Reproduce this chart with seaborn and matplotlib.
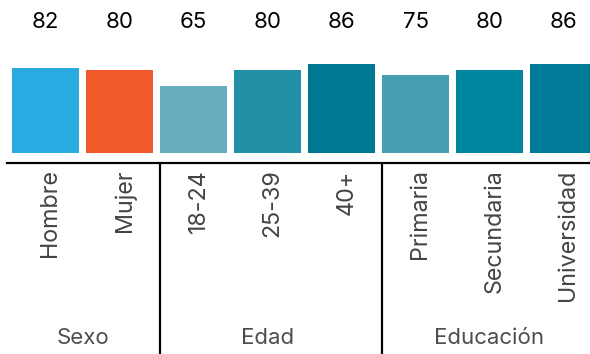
import matplotlib
matplotlib.use("Agg")
import matplotlib.pyplot as plt
import matplotlib.transforms as mtransforms
import seaborn as sns
import pandas as pd

categories = ["Hombre", "Mujer", "18-24", "25-39", "40+", "Primaria", "Secundaria", "Universidad"]
values = [82, 80, 65, 80, 86, 75, 80, 86]
groups = ["Sexo", "Sexo", "Edad", "Edad", "Edad", "Educación", "Educación", "Educación"]
group_names = ["Sexo", "Edad", "Educación"]
colors = ["#29ABE2", "#F15A2B", "#66ADBE", "#2290A6", "#007893", "#479FB4", "#00869E", "#007A96"]

sns.set_theme(style="white")
plt.rcParams["font.family"] = ["Inter", "DejaVu Sans"]

df = pd.DataFrame({"cat": categories, "val": values, "grp": groups})

W, H = 590, 354
fig = plt.figure(figsize=(W / 100, H / 100), dpi=100)
ax = fig.add_axes([0, (H - 153) / H, 1, 153 / H])

sns.barplot(data=df, x="cat", y="val", hue="cat", palette=colors, legend=False,
            width=0.905, saturation=1, linewidth=0, edgecolor="none", ax=ax)

step = 74.0
ax.set_xlim(-45.5 / step, (W - 45.5) / step)
ax.set_ylim(0, 153 / 1.035)
ax.set_xlabel("")
ax.set_ylabel("")
ax.set_yticks([])

for s in ["top", "left", "right"]:
    ax.spines[s].set_visible(False)
ax.spines["bottom"].set_position(("outward", 10 * 72 / 100))
ax.spines["bottom"].set_linewidth(2.2 * 72 / 100)
ax.spines["bottom"].set_color("black")
ax.spines["bottom"].set_bounds(-38.5 / step, (W - 45.5) / step)

ax.tick_params(axis="x", length=0, pad=4.5, labelsize=16.8, labelcolor="#444444")
ax.set_xticks(range(len(categories)))
ax.set_xticklabels(categories, rotation=90)
offset = mtransforms.ScaledTranslation(5 / 100, 0, fig.dpi_scale_trans)
for lab in ax.get_xticklabels():
    lab.set_transform(lab.get_transform() + offset)

xt = ax.get_xaxis_transform()
for i, v in enumerate(values):
    ax.text(i, (153 - 22) / 153, f"{v}", transform=xt, ha="center", va="center",
            fontsize=16, color="black")

# group separators and group labels
for g in group_names:
    members = [i for i, gg in enumerate(groups) if gg == g]
    mid = sum(members) / len(members)
    ax.text(mid, -(338 - 153) / 153, g, transform=xt, ha="center", va="center",
            fontsize=16, color="#4d4d4d")
    last = members[-1]
    if last < len(categories) - 1:
        xb = last + 0.5 + 3 / step
        ax.plot([xb, xb], [-10 / 153, -(H - 153) / 153], transform=xt,
                color="black", lw=2.2 * 72 / 100, clip_on=False, solid_capstyle="butt")

fig.savefig("out.png", dpi=100)
